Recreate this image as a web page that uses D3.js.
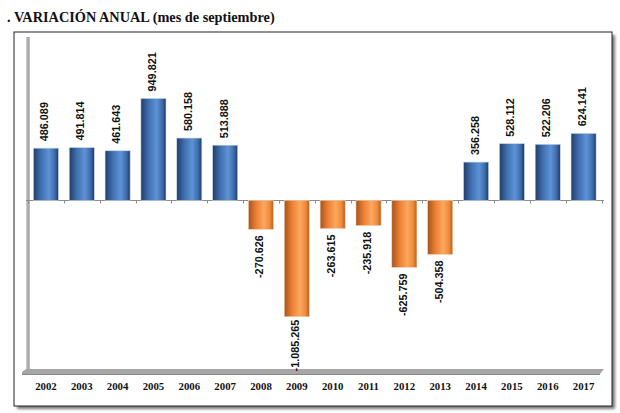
<!DOCTYPE html>
<html><head><meta charset="utf-8">
<script src="https://cdn.jsdelivr.net/npm/d3@7"></script>
<style>body{margin:0;background:#fff}svg{display:block}</style>
</head><body>
<script>
const years = ["2002","2003","2004","2005","2006","2007","2008","2009","2010","2011","2012","2013","2014","2015","2016","2017"];
const values = [486089,491814,461643,949821,580158,513888,-270626,-1085265,-263615,-235918,-625759,-504358,356258,528112,522206,624141];
const titleText = ". VARIACIÓN ANUAL (mes de septiembre)";

const W = 620, H = 413;
const svg = d3.select("body").append("svg").attr("width", W).attr("height", H);
const defs = svg.append("defs");

function grad(id, stops) {
  const g = defs.append("linearGradient").attr("id", id).attr("x1", "0").attr("x2", "1").attr("y1", "0").attr("y2", "0");
  stops.forEach(s => g.append("stop").attr("offset", s[0]).attr("stop-color", s[1]));
}
grad("gBlue", [["0%","#203d6b"],["30%","#3f6fae"],["62%","#5d93d6"],["85%","#3e6cab"],["100%","#1f3a66"]]);
grad("gOrange", [["0%","#a8521a"],["30%","#ea7f33"],["62%","#fca85e"],["85%","#ee8a3c"],["100%","#b5601f"]]);
grad("gWall", [["0%","#d0d0d0"],["50%","#a8a8a8"],["100%","#bdbdbd"]]);
const blur = defs.append("filter").attr("id","sh").attr("x","-5%").attr("y","-5%").attr("width","115%").attr("height","115%");
blur.append("feGaussianBlur").attr("stdDeviation", 1.5);

// title
svg.append("text").attr("x", 7).attr("y", 22)
  .attr("font-family", "Liberation Serif, DejaVu Serif, serif").attr("font-weight", "bold")
  .attr("font-size", 14.3).attr("fill", "#111").text(titleText);

// frame with shadow
svg.append("rect").attr("x", 17).attr("y", 35).attr("width", 598).attr("height", 374)
  .attr("fill", "#777").attr("filter", "url(#sh)");
svg.append("rect").attr("x", 14).attr("y", 32).attr("width", 598).attr("height", 374)
  .attr("fill", "#fff").attr("stroke", "#222").attr("stroke-width", 1);

// scales
const x = d3.scaleBand().domain(years).range([28, 601.5]).paddingInner(0.3).paddingOuter(0.15);
const y = d3.scaleLinear().domain([-1600000, 1000000]).range([372, 93]);

// left wall & floor (3D look)
svg.append("rect").attr("x", 26).attr("y", 37).attr("width", 4).attr("height", y(-1600000) - 37)
  .attr("fill", "url(#gWall)");
svg.append("polygon")
  .attr("points", [[22, 372], [26, 369], [604, 369], [600, 374], [22, 374]].map(p => p.join(",")).join(" "))
  .attr("fill", "#a6a6a6");
svg.append("line").attr("x1", 22).attr("x2", 600).attr("y1", 374.5).attr("y2", 374.5).attr("stroke", "#888");

// zero axis line with ticks
const zy = Math.round(y(0)) + 0.5;
svg.append("line").attr("x1", 26).attr("x2", 604).attr("y1", zy).attr("y2", zy).attr("stroke", "#8c8c8c");
const step = x.step();
d3.range(years.length + 1).forEach(i => {
  const tx = Math.round(x(years[0]) - (step - x.bandwidth()) / 2 + i * step) + 0.5;
  svg.append("line").attr("x1", tx).attr("x2", tx).attr("y1", zy).attr("y2", zy + 3).attr("stroke", "#8c8c8c");
});

// bars
const data = years.map((yr, i) => ({ yr, v: values[i] }));
svg.append("g").selectAll("rect").data(data).join("rect")
  .attr("x", d => x(d.yr))
  .attr("width", x.bandwidth())
  .attr("y", d => d.v >= 0 ? y(d.v) : y(0))
  .attr("height", d => Math.abs(y(d.v) - y(0)))
  .attr("fill", d => d.v >= 0 ? "url(#gBlue)" : "url(#gOrange)")
  .attr("stroke", d => d.v >= 0 ? "#cfd9e8" : "#f3d2b8").attr("stroke-width", 0.6);

// value labels
const loc = d3.formatLocale({ decimal: ",", thousands: ".", grouping: [3], currency: ["", ""], minus: "-" });
const fmt = loc.format(",d");
svg.append("g").selectAll("text").data(data).join("text")
  .attr("transform", d => {
    const cx = x(d.yr) + x.bandwidth() / 2 + 2.5;
    const ty = d.v >= 0 ? y(d.v) - 7 : y(d.v) + (d.v < -1000000 ? 3 : 6);
    return `translate(${cx},${ty}) rotate(-90)`;
  })
  .attr("text-anchor", d => d.v >= 0 ? "start" : "end")
  .attr("font-family", "Liberation Sans, Arial, sans-serif").attr("font-weight", "bold")
  .attr("font-size", 10.8).attr("fill", "#111")
  .text(d => fmt(d.v));

// year labels
svg.append("g").selectAll("text").data(years).join("text")
  .attr("x", d => x(d) + x.bandwidth() / 2).attr("y", 390)
  .attr("text-anchor", "middle")
  .attr("font-family", "Liberation Serif, DejaVu Serif, serif").attr("font-weight", "bold")
  .attr("font-size", 10.8).attr("fill", "#111").text(d => d);
</script>
</body></html>
